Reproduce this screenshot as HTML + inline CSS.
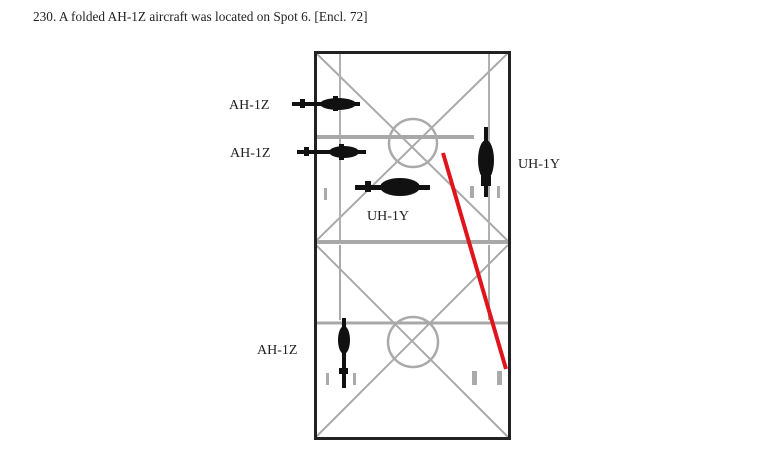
<!DOCTYPE html>
<html><head><style>
body{margin:0;background:#fff;width:774px;height:457px;overflow:hidden;font-family:"Liberation Serif",serif}
</style></head><body>
<svg width="774" height="457" xmlns="http://www.w3.org/2000/svg">
<text x="33" y="21" font-family="Liberation Serif" font-size="13.3" fill="#222">230.  A folded AH-1Z aircraft was located on Spot 6.  [Encl. 72]</text>
<g stroke="#aaa" stroke-width="2" fill="none">
<line x1="316" y1="53" x2="508" y2="241"/>
<line x1="508" y1="53" x2="316" y2="241"/>
<line x1="316" y1="245" x2="508" y2="437"/>
<line x1="508" y1="245" x2="316" y2="437"/>
<line x1="340" y1="53" x2="340" y2="241" stroke="#b0b0b0"/>
<line x1="489" y1="53" x2="489" y2="241" stroke="#b0b0b0"/>
<line x1="340" y1="245" x2="340" y2="320"/>
<line x1="489" y1="245" x2="489" y2="320"/>
<line x1="316" y1="137" x2="474" y2="137" stroke-width="4" stroke="#a8a8a8"/>
<line x1="316" y1="242" x2="508" y2="242" stroke-width="4" stroke="#a8a8a8"/>
<line x1="316" y1="323" x2="508" y2="323" stroke-width="3" stroke="#a8a8a8"/>
<circle cx="413" cy="143" r="24" stroke-width="2.5"/>
<circle cx="413" cy="342" r="25" stroke-width="2.5"/>
</g>
<g fill="#aaa">
<rect x="324" y="188" width="3" height="12"/><rect x="470" y="186" width="4" height="12"/><rect x="497" y="186" width="3" height="12"/>
<rect x="326" y="373" width="3" height="12"/><rect x="353" y="373" width="3" height="12"/><rect x="472" y="371" width="5" height="14"/><rect x="497" y="371" width="5" height="14"/>
</g>
<rect x="315.5" y="52.5" width="194" height="386" fill="none" stroke="#222" stroke-width="3"/>
<g fill="#111">
<rect x="292" y="102" width="68" height="4"/><ellipse cx="338" cy="104" rx="18" ry="6"/><rect x="300" y="99" width="5" height="9"/><rect x="333" y="96" width="5" height="15"/>
<rect x="297" y="150" width="69" height="4"/><ellipse cx="344" cy="152" rx="15" ry="6"/><rect x="304" y="147" width="5" height="9"/><rect x="339" y="144" width="5" height="16"/>
<rect x="355" y="185" width="75" height="5"/><ellipse cx="400" cy="187" rx="20" ry="9"/><rect x="365" y="181" width="6" height="11"/>
<rect x="484" y="127" width="4" height="70"/><ellipse cx="486" cy="160" rx="8" ry="20"/><rect x="481" y="176" width="10" height="10"/>
<rect x="342" y="318" width="4" height="70"/><ellipse cx="344" cy="340" rx="6" ry="14"/><rect x="339" y="368" width="9" height="6"/>
</g>
<line x1="443" y1="153" x2="506" y2="369" stroke="#e0141c" stroke-width="4"/>
<g font-family="Liberation Serif" font-size="14" fill="#222">
<text x="229" y="109">AH-1Z</text>
<text x="230" y="157">AH-1Z</text>
<text x="518" y="168">UH-1Y</text>
<text x="367" y="220">UH-1Y</text>
<text x="257" y="354">AH-1Z</text>
</g>
</svg>
</body></html>
